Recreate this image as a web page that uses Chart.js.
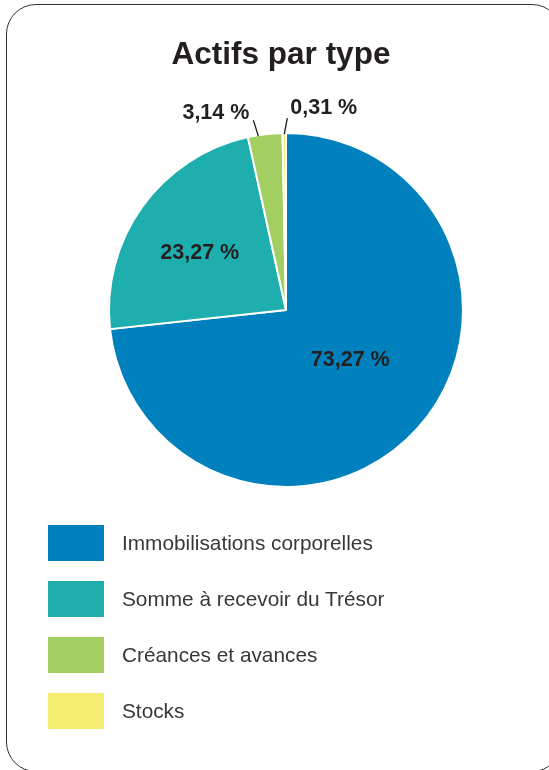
<!DOCTYPE html>
<html>
<head>
<meta charset="utf-8">
<script src="https://cdn.jsdelivr.net/npm/chart.js@4.4.1/dist/chart.umd.min.js"></script>
<style>
  html, body { margin: 0; padding: 0; background: #fff; }
  body { width: 549px; height: 770px; position: relative; overflow: hidden; font-family: "Liberation Sans", Arial, sans-serif; }
  .card { position: absolute; left: 6px; top: 4px; width: 556px; height: 768px; border: 1.5px solid #333; border-radius: 30px; box-sizing: border-box; }
  #chart { position: absolute; left: 0; top: 0; }
  .title { position: absolute; left: 0; width: 562px; top: 38px; text-align: center; font-size: 31.5px; line-height: 31px; font-weight: bold; color: #231f20; }
  .legend { position: absolute; left: 48px; top: 525px; margin: 0; padding: 0; list-style: none; }
  .legend li { display: flex; align-items: center; height: 36px; margin-bottom: 20px; }
  .legend .box { width: 56px; height: 36px; margin-right: 18px; }
  .legend .txt { font-size: 20.8px; color: #383838; }
</style>
</head>
<body>
<div class="card"></div>
<canvas id="chart" width="549" height="770"></canvas>
<div class="title">Actifs par type</div>
<ul class="legend" id="legend"></ul>
<script>
// data
const categories = ["Immobilisations corporelles", "Somme à recevoir du Trésor", "Créances et avances", "Stocks"]
const shares = [73.27, 23.27, 3.14, 0.31]
const colors = ["#0081be", "#1eaead", "#a3cf62", "#f5ed72"]

const fmt = (v) => v.toFixed(2).replace(".", ",") + " %"

// label placement: inside slices use radius factor, small slices get a leader line
const labelSpots = [
  { f: 0.45, dx: 5, dy: -3 },
  { f: 0.6, dx: 0, dy: 5 },
  { leader: [-5, -16], at: 0.3, dx: -4, dy: -7, align: "right" },
  { leader: [3, -16], at: 0.5, dx: 3, dy: -10, align: "left" },
]

const sliceLabels = {
  id: "sliceLabels",
  afterDatasetsDraw(chart) {
    const ctx = chart.ctx
    const arcs = chart.getDatasetMeta(0).data
    ctx.save()
    ctx.font = "bold 21.5px 'Liberation Sans', Arial, sans-serif"
    ctx.fillStyle = "#231f20"
    ctx.strokeStyle = "#231f20"
    ctx.lineWidth = 1.3
    ctx.textBaseline = "middle"
    arcs.forEach((arc, i) => {
      const { x, y, startAngle, endAngle, outerRadius } = arc.getProps(["x", "y", "startAngle", "endAngle", "outerRadius"], true)
      const spot = labelSpots[i]
      const text = fmt(shares[i])
      if (spot.leader) {
        const a = startAngle + (endAngle - startAngle) * spot.at
        const x0 = x + Math.cos(a) * (outerRadius - 1)
        const y0 = y + Math.sin(a) * (outerRadius - 1)
        const x1 = x0 + spot.leader[0]
        const y1 = y0 + spot.leader[1]
        ctx.beginPath()
        ctx.moveTo(x0, y0)
        ctx.lineTo(x1, y1)
        ctx.stroke()
        ctx.textAlign = spot.align
        ctx.fillText(text, x1 + spot.dx, y1 + spot.dy)
      } else {
        const mid = (startAngle + endAngle) / 2
        ctx.textAlign = "center"
        const r = outerRadius * spot.f
        ctx.fillText(text, x + Math.cos(mid) * r + spot.dx, y + Math.sin(mid) * r + spot.dy)
      }
    })
    ctx.restore()
  },
}

new Chart(document.getElementById("chart"), {
  type: "pie",
  data: {
    labels: categories,
    datasets: [{
      data: shares,
      backgroundColor: colors,
      borderColor: "#ffffff",
      borderWidth: 2,
    }],
  },
  options: {
    responsive: false,
    animation: false,
    devicePixelRatio: 1,
    layout: { padding: { left: 108, right: 85, top: 132, bottom: 282 } },
    plugins: {
      legend: { display: false },
      tooltip: { enabled: false },
    },
  },
  plugins: [sliceLabels],
})

// legend built from the same arrays
const legend = document.getElementById("legend")
categories.forEach((name, i) => {
  const li = document.createElement("li")
  li.innerHTML = `<span class="box" style="background:${colors[i]}"></span><span class="txt">${name}</span>`
  legend.appendChild(li)
})
</script>
</body>
</html>
